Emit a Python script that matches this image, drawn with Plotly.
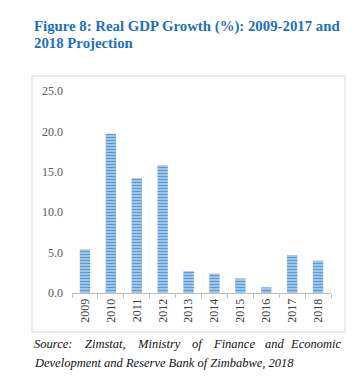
import plotly.graph_objects as go

years = ["2009", "2010", "2011", "2012", "2013", "2014", "2015", "2016", "2017", "2018"]
growth = [5.4, 19.7, 14.2, 15.8, 2.7, 2.4, 1.8, 0.7, 4.7, 4.0]
y_ticks = [0, 5, 10, 15, 20, 25]

W, H = 360, 378
ML, MR, MT, MB = 72, 29, 91, 85
PW, PH = W - ML - MR, H - MT - MB

def px(x):
    return (x - ML) / PW

def py(y):
    return (H - MB - y) / PH

fig = go.Figure(go.Bar(
    x=years, y=growth,
    marker=dict(
        color="#5B9BD5",
        line=dict(width=0),
        pattern=dict(shape="-", fillmode="replace", size=3, solidity=0.65,
                     fgcolor="#5B9BD5", bgcolor="#dce9f6"),
    ),
    width=0.4,
    hoverinfo="x+y",
))

serif = "Liberation Serif, Times New Roman, serif"

fig.update_layout(
    width=W, height=H,
    margin=dict(l=ML, r=MR, t=MT, b=MB),
    paper_bgcolor="white", plot_bgcolor="white",
    showlegend=False,
    font=dict(family=serif, size=12, color="#595959"),
    xaxis=dict(
        type="category", showgrid=False, showline=True, linecolor="#bfbfbf", linewidth=1,
        ticks="outside", tickson="boundaries", ticklen=4, tickcolor="#bfbfbf",
        tickangle=-90, tickfont=dict(family=serif, size=12, color="#404040"),
        range=[-0.5, 9.5],
    ),
    yaxis=dict(
        range=[0, 25], tickvals=y_ticks, tickformat=".1f", showgrid=False,
        showline=False, zeroline=False, ticks="", ticklabelstandoff=8,
        tickfont=dict(family=serif, size=12, color="#595959"),
    ),
)

# frame around chart
fig.add_shape(type="rect", xref="paper", yref="paper",
              x0=px(32), x1=px(345), y0=py(332), y1=py(76),
              line=dict(color="#d9d9d9", width=1), fillcolor="rgba(0,0,0,0)", layer="below")

title_color = "#1C70C4"
fig.add_annotation(text="<b>Figure 8: Real GDP Growth (%): 2009-2017 and</b>",
                   xref="paper", yref="paper", x=px(32), y=py(27), xanchor="left", yanchor="middle",
                   showarrow=False, font=dict(family=serif, size=14.8, color=title_color))
fig.add_annotation(text="<b>2018 Projection</b>",
                   xref="paper", yref="paper", x=px(32), y=py(43), xanchor="left", yanchor="middle",
                   showarrow=False, font=dict(family=serif, size=14.8, color=title_color))

src_words = [("Source:", 32), ("Zimstat,", 83), ("Ministry", 135), ("of", 190),
             ("Finance", 211), ("and", 263)]
for w, x in src_words:
    fig.add_annotation(text="<i>%s</i>" % w, xref="paper", yref="paper", x=px(x), y=py(344),
                       xanchor="left", yanchor="middle", showarrow=False,
                       font=dict(family=serif, size=12.5, color="#111111"))
fig.add_annotation(text="<i>Economic</i>", xref="paper", yref="paper", x=px(343), y=py(344),
                   xanchor="right", yanchor="middle", showarrow=False,
                   font=dict(family=serif, size=12.5, color="#111111"))
fig.add_annotation(text="<i>Development and Reserve Bank of Zimbabwe, 2018</i>",
                   xref="paper", yref="paper", x=px(32), y=py(363), xanchor="left", yanchor="middle",
                   showarrow=False, font=dict(family=serif, size=12.5, color="#111111"))

fig.write_html("out.html", config={"displayModeBar": False},
               post_script="document.body.style.margin='0';")
